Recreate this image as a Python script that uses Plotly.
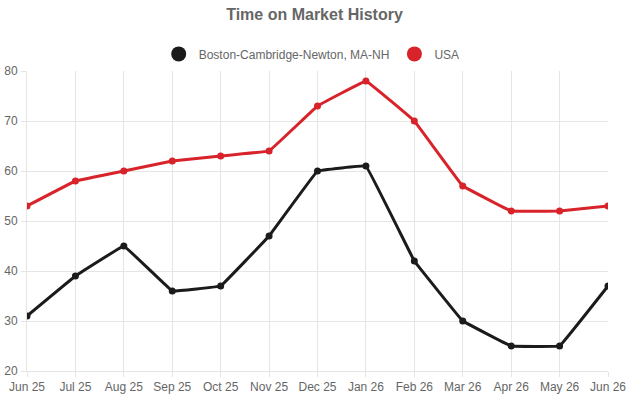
import plotly.graph_objects as go

months = ["Jun 25", "Jul 25", "Aug 25", "Sep 25", "Oct 25", "Nov 25", "Dec 25",
          "Jan 26", "Feb 26", "Mar 26", "Apr 26", "May 26", "Jun 26"]
boston = [31, 39, 45, 36, 37, 47, 60, 61, 42, 30, 25, 25, 37]
usa = [53, 58, 60, 62, 63, 64, 73, 78, 70, 57, 52, 52, 53]

BLACK = "#1b1b1b"
RED = "#d8232a"
GRID = "#e5e5e5"
TEXT = "#666666"

fig = go.Figure()

for name, vals, color in [("Boston-Cambridge-Newton, MA-NH", boston, BLACK), ("USA", usa, RED)]:
    fig.add_trace(go.Scatter(
        x=months, y=vals, mode="lines+markers", name=name, showlegend=False,
        line=dict(color=color, width=3, shape="spline", smoothing=0.1),
        marker=dict(color=color, size=7),
    ))
    # legend proxy: circle only
    fig.add_trace(go.Scatter(
        x=[None], y=[None], mode="markers", name=name,
        marker=dict(color=color, size=15),
    ))

fig.update_layout(
    width=629, height=400,
    margin=dict(l=27, r=21, t=71, b=29),
    paper_bgcolor="white", plot_bgcolor="white",
    font=dict(family="Liberation Sans, Arial, sans-serif", size=12, color=TEXT),
    title=dict(text="<b>Time on Market History</b>", x=0.5, xanchor="center",
               y=0.965, yanchor="middle", font=dict(size=16, color=TEXT)),
    legend=dict(orientation="h", x=0.49, xanchor="center", y=1.057, yanchor="middle",
                font=dict(size=12, color=TEXT), itemwidth=30, tracegroupgap=0),
    showlegend=True,
)
fig.update_xaxes(
    type="category", range=[0, len(months) - 1], automargin=False,
    showgrid=True, gridcolor=GRID, gridwidth=1,
    showline=True, linecolor=GRID, zeroline=False,
    ticks="outside", ticklen=5, tickcolor=GRID,
    tickfont=dict(size=12, color=TEXT),
)
fig.update_yaxes(
    range=[20, 80], dtick=10, automargin=False,
    showgrid=True, gridcolor=GRID, gridwidth=1,
    showline=True, linecolor=GRID, zeroline=False,
    ticks="outside", ticklen=5, tickcolor=GRID, ticklabelstandoff=1,
    tickfont=dict(size=12, color=TEXT),
)

fig.write_html("out.html", config={"displayModeBar": False},
               post_script="document.body.style.margin='0';")
